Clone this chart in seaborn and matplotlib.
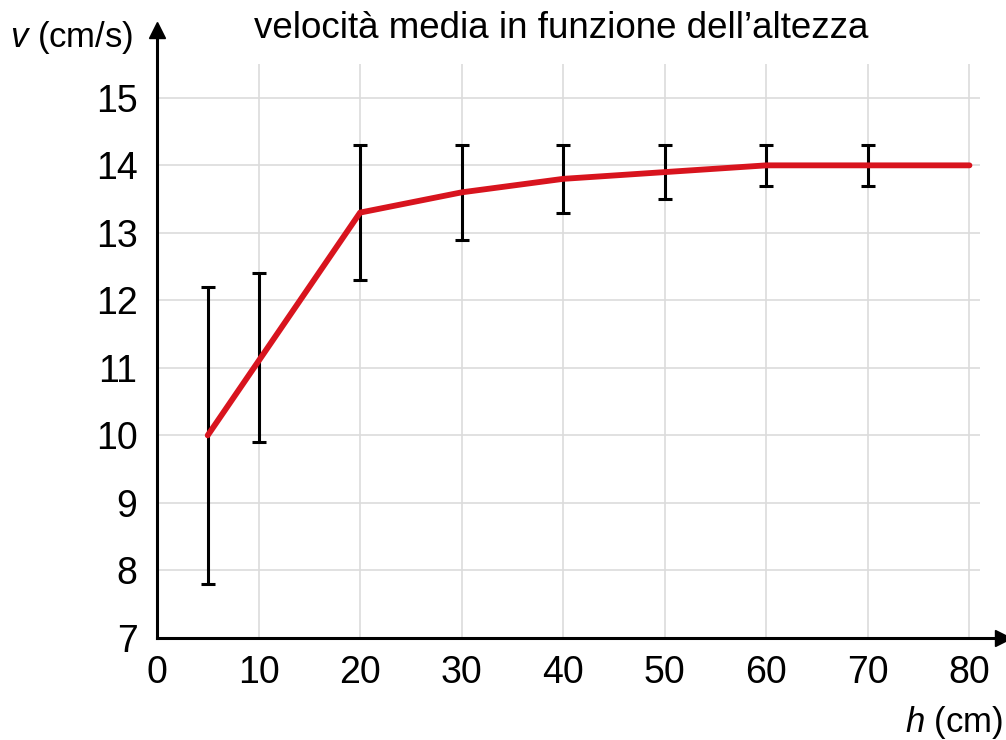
import numpy as np
import pandas as pd
import seaborn as sns
import matplotlib
matplotlib.use('Agg')
import matplotlib.pyplot as plt

# data
altezza = [5, 10, 20, 30, 40, 50, 60, 70, 80]
velocita = [10.0, 11.1, 13.3, 13.6, 13.8, 13.9, 14.0, 14.0, 14.0]
v_max = [12.2, 12.4, 14.3, 14.3, 14.3, 14.3, 14.3, 14.3, np.nan]
v_min = [7.8, 9.9, 12.3, 12.9, 13.3, 13.5, 13.7, 13.7, np.nan]
x_ticks = [0, 10, 20, 30, 40, 50, 60, 70, 80]
y_ticks = [7, 8, 9, 10, 11, 12, 13, 14, 15]

df = pd.DataFrame({'h': altezza, 'v': velocita, 'vmax': v_max, 'vmin': v_min})

sns.set_style('white')
plt.rcParams['font.family'] = ['Liberation Sans', 'DejaVu Sans']
plt.rcParams['text.color'] = 'black'
plt.rcParams['mathtext.fontset'] = 'custom'
plt.rcParams['mathtext.it'] = 'Liberation Sans:italic'
plt.rcParams['mathtext.rm'] = 'Liberation Sans'

fig = plt.figure(figsize=(10.06, 7.4), dpi=100)
ax = fig.add_axes([0.156, 0.138, 0.841, 0.821])

xmax, ymax = 83.3, 16.0
ax.set_xlim(0, xmax)
ax.set_ylim(7, ymax)

# light grid, stopping short of the arrows
grid_col = '#dcdcdc'
ax.vlines(x_ticks[1:], 7, 15.5, color=grid_col, lw=1.2, zorder=0)
ax.hlines(y_ticks[1:], 0, 81, color=grid_col, lw=1.2, zorder=0)

# error bars
sub = df.dropna()
err = [sub['v'] - sub['vmin'], sub['vmax'] - sub['v']]
ax.errorbar(sub['h'], sub['v'], yerr=err, fmt='none', ecolor='black',
            elinewidth=2.2, capsize=5, capthick=2.2, zorder=2)

sns.lineplot(data=df, x='h', y='v', color='#d8141e', lw=4.2, ax=ax, zorder=3)

# axes with arrows
for s in ['top', 'right']:
    ax.spines[s].set_visible(False)
for s in ['left', 'bottom']:
    ax.spines[s].set_linewidth(2.2)
    ax.spines[s].set_color('black')
ax.plot(0, 1, marker='^', ms=11, color='black', transform=ax.transAxes, clip_on=False)
ax.plot(1, 0, marker='>', ms=11, color='black', transform=ax.transAxes, clip_on=False)

ax.set_xticks(x_ticks)
ax.set_yticks(y_ticks)
ax.tick_params(axis='both', direction='out', length=7, width=1.6, labelsize=27,
               colors='black')
ax.tick_params(axis='x', pad=5)
ax.tick_params(axis='y', pad=7)
ax.set_xlabel('')
ax.set_ylabel('')

fig.text(0.01, 0.95, '$v$ (cm/s)', fontsize=25, ha='left', va='center')
fig.text(0.997, 0.024, '$h$ (cm)', fontsize=25, ha='right', va='center')
fig.text(0.558, 0.961, 'velocità media in funzione dell’altezza', fontsize=26.5,
         ha='center', va='center')

plt.savefig('out.png', dpi=100)
